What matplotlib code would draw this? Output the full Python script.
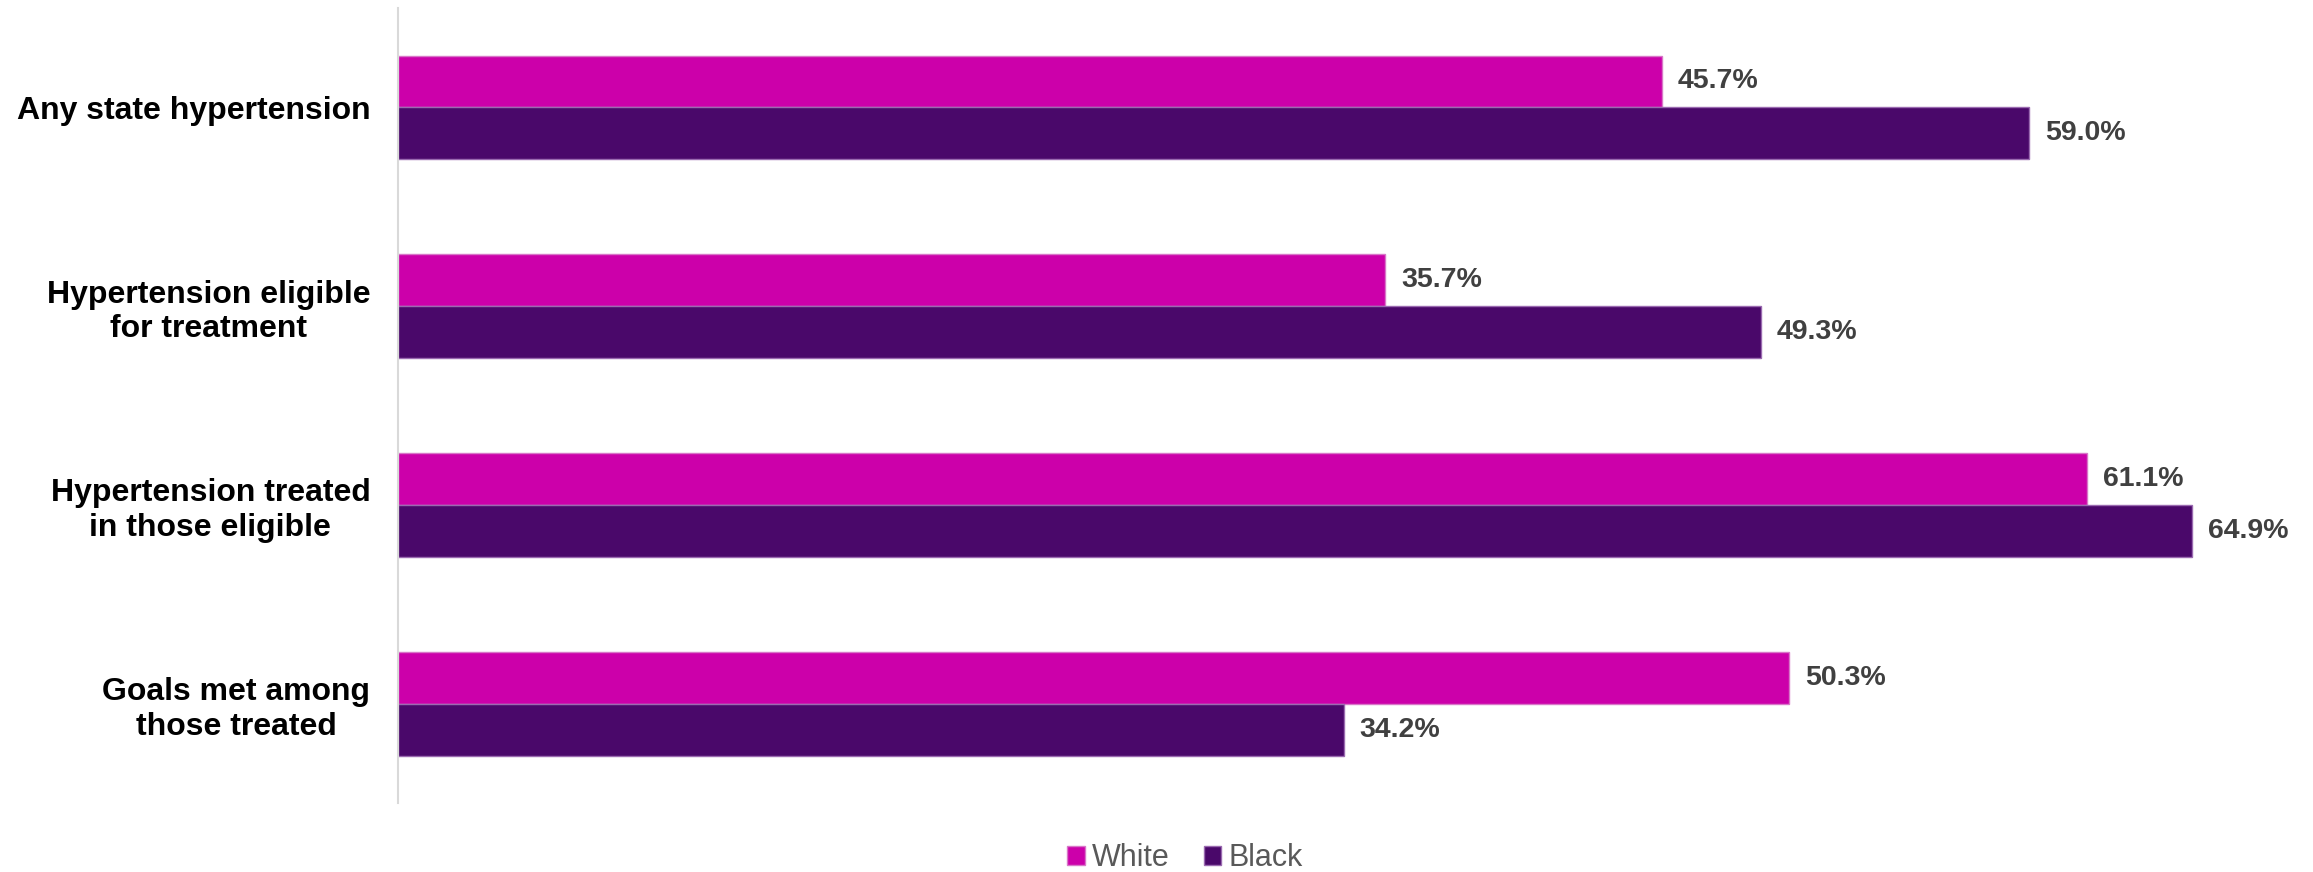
import numpy as np
import matplotlib.pyplot as plt

plt.rcParams['font.family'] = ['Liberation Sans', 'DejaVu Sans']

# Hypertension measures by race (%)
categories = ['Any state hypertension',
              'Hypertension eligible\nfor treatment',
              'Hypertension treated\nin those eligible',
              'Goals met among\nthose treated']
white = [45.7, 35.7, 61.1, 50.3]
black = [59.0, 49.3, 64.9, 34.2]
series_names = ['White', 'Black']

colors = ['#CC00AA', '#4A086A']
edges = ['#D877C8', '#9A6AB0']

fig = plt.figure(figsize=(23.13, 8.72), dpi=100)
ax = fig.add_axes([0.1721, 0.0791, 0.8128, 0.9117])

y = np.arange(len(categories))
h = 0.261

for vals, name, c, ec, off in zip([white, black], series_names, colors, edges, [-h / 2, h / 2]):
    bars = ax.barh(y + off, vals, height=h, color=c, edgecolor=ec, linewidth=1, label=name)
    for b, v in zip(bars, vals):
        ax.annotate(f'{v:.1f}%', (b.get_width(), b.get_y() + b.get_height() / 2),
                    xytext=(11.5, 0), textcoords='offset points', va='center', ha='left',
                    fontsize=20.5, fontweight='bold', color='#404040')

ax.set_ylim(len(categories) - 0.5, -0.5)
ax.set_xlim(0, 68)
ax.set_yticks(y)
ax.set_yticklabels(categories, fontsize=23, fontweight='bold', color='black',
                   multialignment='center')
ax.tick_params(axis='y', length=0, pad=20)
ax.set_xticks([])

for s in ['top', 'right', 'bottom']:
    ax.spines[s].set_visible(False)
ax.spines['left'].set_color('#D9D9D9')
ax.spines['left'].set_linewidth(1.5)

fig.legend(loc='center', bbox_to_anchor=(1185 / 2313, 1 - 858 / 872), ncol=2, frameon=False,
           fontsize=22, labelcolor='#595959', handlelength=0.56, handleheight=0.56,
           handletextpad=0.23, columnspacing=1.14)

fig.savefig('out.png', dpi=100)
